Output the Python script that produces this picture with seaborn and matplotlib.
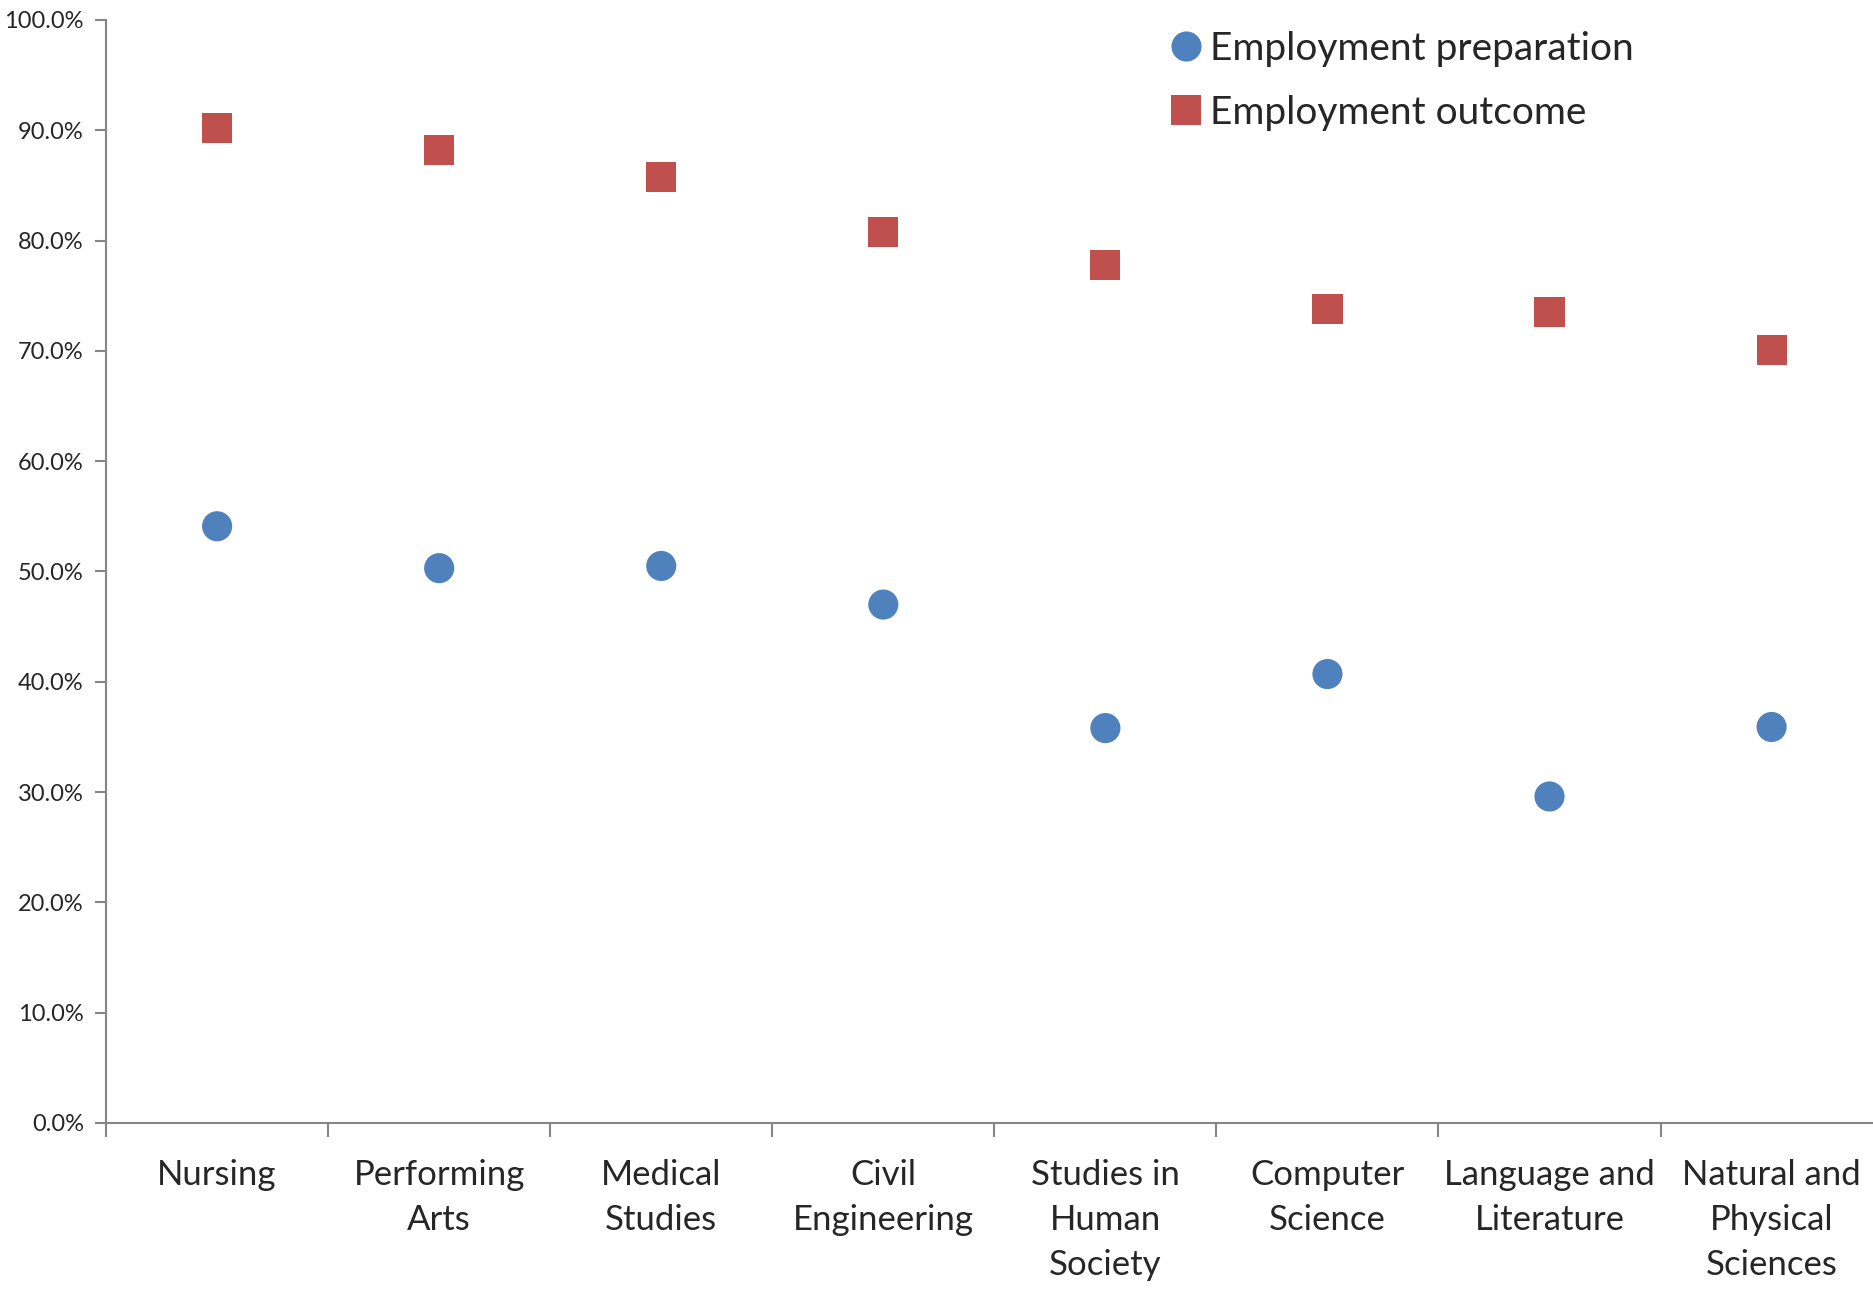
import pandas as pd
import seaborn as sns
import matplotlib.pyplot as plt
from matplotlib.ticker import PercentFormatter, FixedLocator

fields = ['Nursing', 'Performing Arts', 'Medical Studies', 'Civil Engineering',
          'Studies in Human Society', 'Computer Science', 'Language and Literature',
          'Natural and Physical Sciences']
tick_labels = ['Nursing', 'Performing\nArts', 'Medical\nStudies', 'Civil\nEngineering',
               'Studies in\nHuman\nSociety', 'Computer\nScience', 'Language and\nLiterature',
               'Natural and\nPhysical\nSciences']
preparation = [54.1, 50.3, 50.5, 47.0, 35.8, 40.7, 29.6, 35.9]
outcome = [90.2, 88.2, 85.8, 80.8, 77.8, 73.8, 73.5, 70.1]
series_names = ['Employment preparation', 'Employment outcome']

sns.set_style('white')
plt.rcParams['font.family'] = ['Lato', 'DejaVu Sans']

df = pd.concat([
    pd.DataFrame({'field': fields, 'value': preparation, 'series': series_names[0]}),
    pd.DataFrame({'field': fields, 'value': outcome, 'series': series_names[1]}),
])

fig = plt.figure(figsize=(18.74, 12.9), dpi=100)
ax = fig.add_axes([0.0566, 0.1295, 0.948, 0.855])
sns.scatterplot(data=df, x='field', y='value', hue='series', style='series',
                palette=['#4F81BD', '#C0504D'], markers=['o', 's'], s=470,
                linewidth=0, ax=ax)

ax.set_xlim(-0.5, 7.5)
ax.set_ylim(0, 100)
ax.set_xlabel('')
ax.set_ylabel('')
ax.yaxis.set_major_locator(FixedLocator(range(0, 101, 10)))
ax.yaxis.set_major_formatter(PercentFormatter(xmax=100, decimals=1))
ax.set_xticks(range(len(fields)))
ax.set_xticklabels(tick_labels, fontsize=25, linespacing=1.5)
ax.xaxis.set_minor_locator(FixedLocator([i - 0.5 for i in range(len(fields) + 1)]))
ax.tick_params(axis='x', which='major', bottom=True, length=0, pad=26)
ax.tick_params(axis='x', which='minor', bottom=True, length=10, width=1.5, color='#868686')
ax.tick_params(axis='y', left=True, length=8, width=1.5, color='#868686', labelsize=17, pad=8)

sns.despine(ax=ax)
for side in ['left', 'bottom']:
    ax.spines[side].set_color('#868686')
    ax.spines[side].set_linewidth(1.5)

ax.legend(loc='upper left', bbox_to_anchor=(1112 / 1874, 1 + 4 / 1290),
          bbox_transform=fig.transFigure, frameon=False, fontsize=28,
          handletextpad=-0.38, labelspacing=0.72, markerscale=1.0)

fig.savefig('out.png', dpi=100)
